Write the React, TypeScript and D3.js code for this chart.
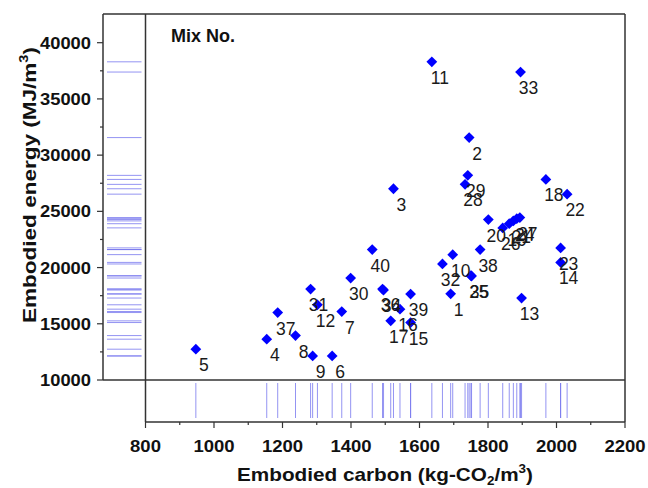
import React from "react";
import * as d3 from "d3";

// Mix numbers with embodied carbon (kg-CO2/m3) and embodied energy (MJ/m3)
const mixNo = [
  1, 2, 3, 4, 5, 6, 7, 8, 9, 10,
  11, 12, 13, 14, 15, 16, 17, 18, 19, 20,
  21, 22, 23, 24, 25, 26, 27, 28, 29, 30,
  31, 32, 33, 34, 35, 36, 37, 38, 39, 40,
];
const carbon = [
  1691, 1745, 1524, 1154, 947, 1345, 1373, 1238, 1288, 1697,
  1636, 1302, 1898, 2012, 1574, 1543, 1516, 1969, 1862, 1801,
  1874, 2031, 2012, 1884, 1750, 1843, 1893, 1733, 1741, 1399,
  1282, 1667, 1895, 1495, 1752, 1492, 1186, 1777, 1574, 1462,
];
const energy = [
  17670, 31560, 27010, 13630, 12740, 12140, 16090, 13950, 12140, 21150,
  38300, 16690, 17290, 20460, 15110, 16300, 15260, 27840, 23900, 24270,
  24150, 26530, 21750, 24350, 19280, 23530, 24450, 27400, 28200, 19070,
  18090, 20320, 37390, 18000, 19250, 18090, 16000, 21600, 17640, 21600,
];

const xTicks = [800, 1000, 1200, 1400, 1600, 1800, 2000, 2200];
const xMinor = [900, 1100, 1300, 1500, 1700, 1900, 2100];
const yTicks = [10000, 15000, 20000, 25000, 30000, 35000, 40000];
const yMinor = [12500, 17500, 22500, 27500, 32500, 37500];

const W = 648;
const H = 488;
const frameTop = 14;
const frameLeft = 103;
const plotLeft = 145.5;
const plotRight = 625;
const plotBottom = 380;
const frameBottom = 422;

const x = d3.scaleLinear().domain([800, 2200]).range([plotLeft, plotRight]);
const y = d3.scaleLinear().domain([10000, 40000]).range([plotBottom, 42.7]);

const diamond = d3.symbol().type(d3.symbolSquare).size(58)() as string;

const frameColor = "#333";
const rugColor = "#7070ee";
const font = "Arial, 'Liberation Sans', Helvetica, sans-serif";

export default function App() {
  const pts = mixNo.map((m, i) => ({ m, cx: x(carbon[i]), cy: y(energy[i]) }));
  return (
    <svg
      width={W}
      height={H}
      style={{ position: "absolute", left: 0, top: 0, background: "#fff" }}
      fontFamily={font}
    >
      {/* rug along the energy axis */}
      {energy.map((e, i) => (
        <line
          key={"ry" + i}
          x1={frameLeft + 4}
          x2={plotLeft - 4}
          y1={y(e)}
          y2={y(e)}
          stroke={rugColor}
          strokeOpacity={0.75}
          strokeWidth={1}
        />
      ))}
      {/* rug along the carbon axis */}
      {carbon.map((c, i) => (
        <line
          key={"rx" + i}
          x1={x(c)}
          x2={x(c)}
          y1={plotBottom + 3}
          y2={frameBottom - 4}
          stroke={rugColor}
          strokeOpacity={0.75}
          strokeWidth={1}
        />
      ))}

      {/* frame */}
      <g stroke={frameColor} strokeWidth={1.5} fill="none">
        <line x1={frameLeft} x2={plotRight} y1={frameTop} y2={frameTop} />
        <line x1={frameLeft} x2={frameLeft} y1={frameTop} y2={plotBottom} />
        <line x1={plotLeft} x2={plotLeft} y1={frameTop} y2={frameBottom} />
        <line x1={frameLeft} x2={plotRight} y1={plotBottom} y2={plotBottom} />
        <line x1={plotLeft} x2={plotRight} y1={frameBottom} y2={frameBottom} />
        <line x1={plotRight} x2={plotRight} y1={frameTop} y2={frameBottom} />
      </g>

      {/* y ticks */}
      <g stroke={frameColor} strokeWidth={1.2}>
        {yTicks.map((t) => (
          <line key={"yt" + t} x1={frameLeft - 6} x2={frameLeft} y1={y(t)} y2={y(t)} />
        ))}
        {yMinor.map((t) => (
          <line key={"ym" + t} x1={frameLeft - 3} x2={frameLeft} y1={y(t)} y2={y(t)} />
        ))}
      </g>
      {yTicks.map((t) => (
        <text
          key={"yl" + t}
          x={frameLeft - 12}
          y={y(t)}
          dy="0.36em"
          textAnchor="end"
          fontSize={17}
          fontWeight="bold"
          fill="#111"
          textLength={51}
          lengthAdjust="spacingAndGlyphs"
        >
          {t}
        </text>
      ))}

      {/* x ticks */}
      <g stroke={frameColor} strokeWidth={1.2}>
        {xTicks.map((t) => (
          <line key={"xt" + t} x1={x(t)} x2={x(t)} y1={frameBottom} y2={frameBottom + 6} />
        ))}
        {xMinor.map((t) => (
          <line key={"xm" + t} x1={x(t)} x2={x(t)} y1={frameBottom} y2={frameBottom + 3} />
        ))}
      </g>
      {xTicks.map((t) => (
        <text
          key={"xl" + t}
          x={x(t)}
          y={frameBottom + 30}
          textAnchor="middle"
          fontSize={17}
          fontWeight="bold"
          fill="#111"
          textLength={String(t).length * 10.3}
          lengthAdjust="spacingAndGlyphs"
        >
          {t}
        </text>
      ))}

      {/* axis titles */}
      <text
        x={385}
        y={481}
        textAnchor="middle"
        fontSize={18.5}
        fontWeight="bold"
        fill="#111"
        textLength={296}
        lengthAdjust="spacingAndGlyphs"
      >
        Embodied carbon (kg-CO
        <tspan fontSize={12} dy={4}>2</tspan>
        <tspan dy={-4}>/m</tspan>
        <tspan fontSize={12} dy={-8}>3</tspan>
        <tspan dy={8}>)</tspan>
      </text>
      <text
        transform={`translate(36, 185) rotate(-90)`}
        textAnchor="middle"
        fontSize={18.5}
        fontWeight="bold"
        fill="#111"
        textLength={276}
        lengthAdjust="spacingAndGlyphs"
      >
        Embodied energy (MJ/m
        <tspan fontSize={12} dy={-8}>3</tspan>
        <tspan dy={8}>)</tspan>
      </text>

      <text x={171} y={42} fontSize={18} fontWeight="bold" fill="#111">
        Mix No.
      </text>

      {/* points */}
      {pts.map((p) => (
        <path
          key={"p" + p.m}
          d={diamond}
          transform={`translate(${p.cx},${p.cy}) rotate(45)`}
          fill="#0000ff"
        />
      ))}
      {pts.map((p) => (
        <text
          key={"t" + p.m}
          x={p.cx + 8}
          y={p.cy + 22}
          textAnchor="middle"
          fontSize={17.5}
          fill="#1a1a1a"
        >
          {p.m}
        </text>
      ))}
    </svg>
  );
}
